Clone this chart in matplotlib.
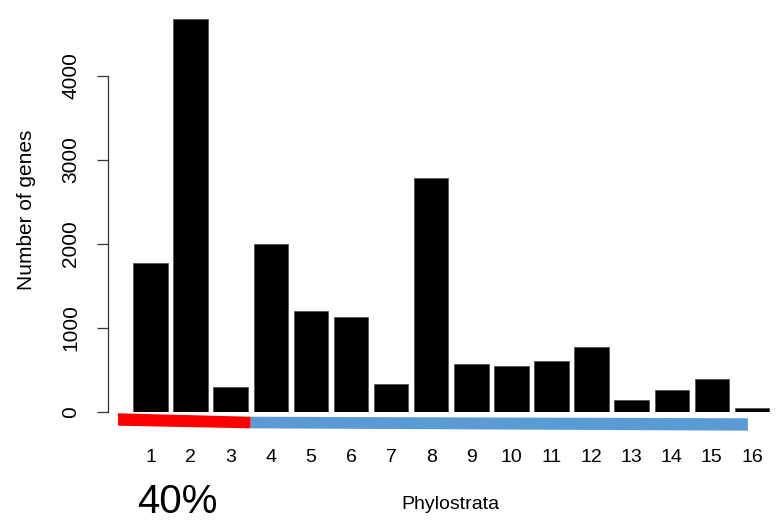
#!/usr/bin/env python3
'''
Bar chart of gene counts per phylostratum
'''

import matplotlib
matplotlib.use('Agg')
import matplotlib.pyplot as plt
from matplotlib.patches import Polygon

plt.rcParams['font.family'] = ['Liberation Sans', 'DejaVu Sans']

# data
strata = list(range(1, 17))
genes = [1770, 4680, 290, 2000, 1200, 1125, 330, 2780,
         565, 545, 600, 770, 140, 255, 390, 45]
old_group = [1, 2, 3]
young_group = list(range(4, 17))
old_label = '40%'

fig = plt.figure(figsize=(7.78, 5.22), dpi=100)
ax = fig.add_axes([108 / 778, (522 - 411.7) / 522, (772 - 108) / 778, 403.2 / 522])

ax.bar(strata, genes, width=0.86, color='black', edgecolor='#555555', linewidth=0.6)

ax.set_xlim(-0.06, 16.5)
ax.set_ylim(0, 4800)

for s in ['top', 'right', 'bottom']:
    ax.spines[s].set_visible(False)
ax.spines['left'].set_bounds(0, 4000)
ax.spines['left'].set_linewidth(0.9)
ax.spines['left'].set_color('#333333')

ax.set_yticks([0, 1000, 2000, 3000, 4000])
ax.tick_params(axis='y', length=8, width=0.9, color='#333333', labelsize=15, pad=12)
for lab in ax.get_yticklabels():
    lab.set_rotation(90)
    lab.set_va('center')

ax.set_xticks(strata)
ax.set_xticklabels([str(s) for s in strata])
ax.tick_params(axis='x', length=0, labelsize=14, pad=27)

ax.set_ylabel('Number of genes', fontsize=15, labelpad=18)
ax.set_xlabel('Phylostrata', fontsize=14)
ax.xaxis.set_label_coords(0.515, -0.21)

# coloured bands under the axis for the two groups
split = (old_group[-1] + young_group[0]) / 2
x0 = old_group[0] - 0.81
x1 = young_group[-1] - 0.1
red = Polygon([(x0, -19), (split, -60), (split, -198), (x0, -167)],
              closed=True, color='#ff0000', clip_on=False, lw=0)
blue = Polygon([(split, -60), (x1, -78), (x1, -226), (split, -198)],
               closed=True, color='#5b9bd5', clip_on=False, lw=0)
ax.add_patch(red)
ax.add_patch(blue)

fig.text(177 / 778, 1 - 502 / 522, old_label, fontsize=29,
         ha='center', va='center')

fig.savefig('out.png', dpi=100)
